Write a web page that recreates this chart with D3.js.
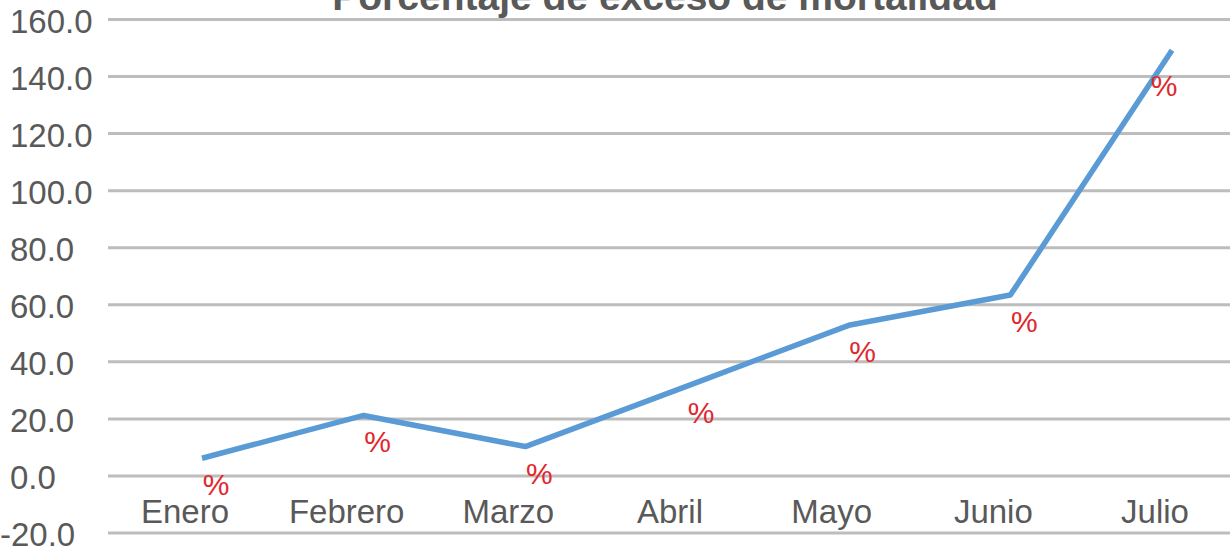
<!DOCTYPE html>
<html>
<head>
<meta charset="utf-8">
<script src="https://cdn.jsdelivr.net/npm/d3@7"></script>
<style>
  html, body { margin: 0; padding: 0; background: #fff; }
</style>
</head>
<body>
<div id="chart-exceso"></div>
<script>
// data
const months = ["Enero", "Febrero", "Marzo", "Abril", "Mayo", "Junio", "Julio"];
const exceso = [6.2, 21.2, 10.3, 31.5, 52.8, 63.4, 149.2];
const yTicks = [-20, 0, 20, 40, 60, 80, 100, 120, 140, 160];
const chartTitle = "Porcentaje de exceso de mortalidad";

const width = 1230, height = 548;
const gridLeft = 108, gridRight = 1230;
const font = "'Liberation Sans', Arial, sans-serif";

const svg = d3.select("#chart-exceso")
    .append("svg")
    .attr("width", width)
    .attr("height", height)
    .style("display", "block");

const x = d3.scalePoint().domain(months).range([202, 1172]);
const y = d3.scaleLinear().domain([-20, 160]).range([533, 19.5]);

// gridlines
svg.append("g")
    .selectAll("line")
    .data(yTicks)
    .join("line")
    .attr("x1", gridLeft)
    .attr("x2", gridRight)
    .attr("y1", d => y(d))
    .attr("y2", d => y(d))
    .attr("stroke", "#bdbdbd")
    .attr("stroke-width", 3);

// y labels (left aligned, minus hangs out)
svg.append("g")
    .selectAll("text")
    .data(yTicks)
    .join("text")
    .attr("x", d => d < 0 ? 0 : 10)
    .attr("y", d => y(d) + 13)
    .attr("font-family", font)
    .attr("font-size", "33px")
    .attr("fill", "#595959")
    .text(d => d3.format(".1f")(d).replace("−", "-"));

// category labels
svg.append("g")
    .selectAll("text")
    .data(months)
    .join("text")
    .attr("x", d => x(d) - 17)
    .attr("y", 523)
    .attr("text-anchor", "middle")
    .attr("font-family", font)
    .attr("font-size", "33px")
    .attr("fill", "#595959")
    .text(d => d);

// the line
const line = d3.line()
    .x((d, i) => x(months[i]))
    .y(d => y(d));

svg.append("path")
    .datum(exceso)
    .attr("d", line)
    .attr("fill", "none")
    .attr("stroke", "#5b9bd5")
    .attr("stroke-width", 5.5)
    .attr("stroke-linejoin", "round");

// data labels, only the % sign shows
const last = exceso.length - 1;
svg.append("g")
    .selectAll("text")
    .data(exceso)
    .join("text")
    .attr("x", (d, i) => x(months[i]) + (i === last ? -8 : 14))
    .attr("y", (d, i) => y(d) + (i === last ? 46 : 37))
    .attr("text-anchor", "middle")
    .attr("font-family", font)
    .attr("font-size", "30px")
    .attr("fill", "#e0282e")
    .text("%");

// title, cut at the top like the source
svg.append("text")
    .attr("x", 665)
    .attr("y", 10)
    .attr("text-anchor", "middle")
    .attr("font-family", font)
    .attr("font-size", "39px")
    .attr("font-weight", "bold")
    .attr("fill", "#595959")
    .text(chartTitle);
</script>
</body>
</html>
